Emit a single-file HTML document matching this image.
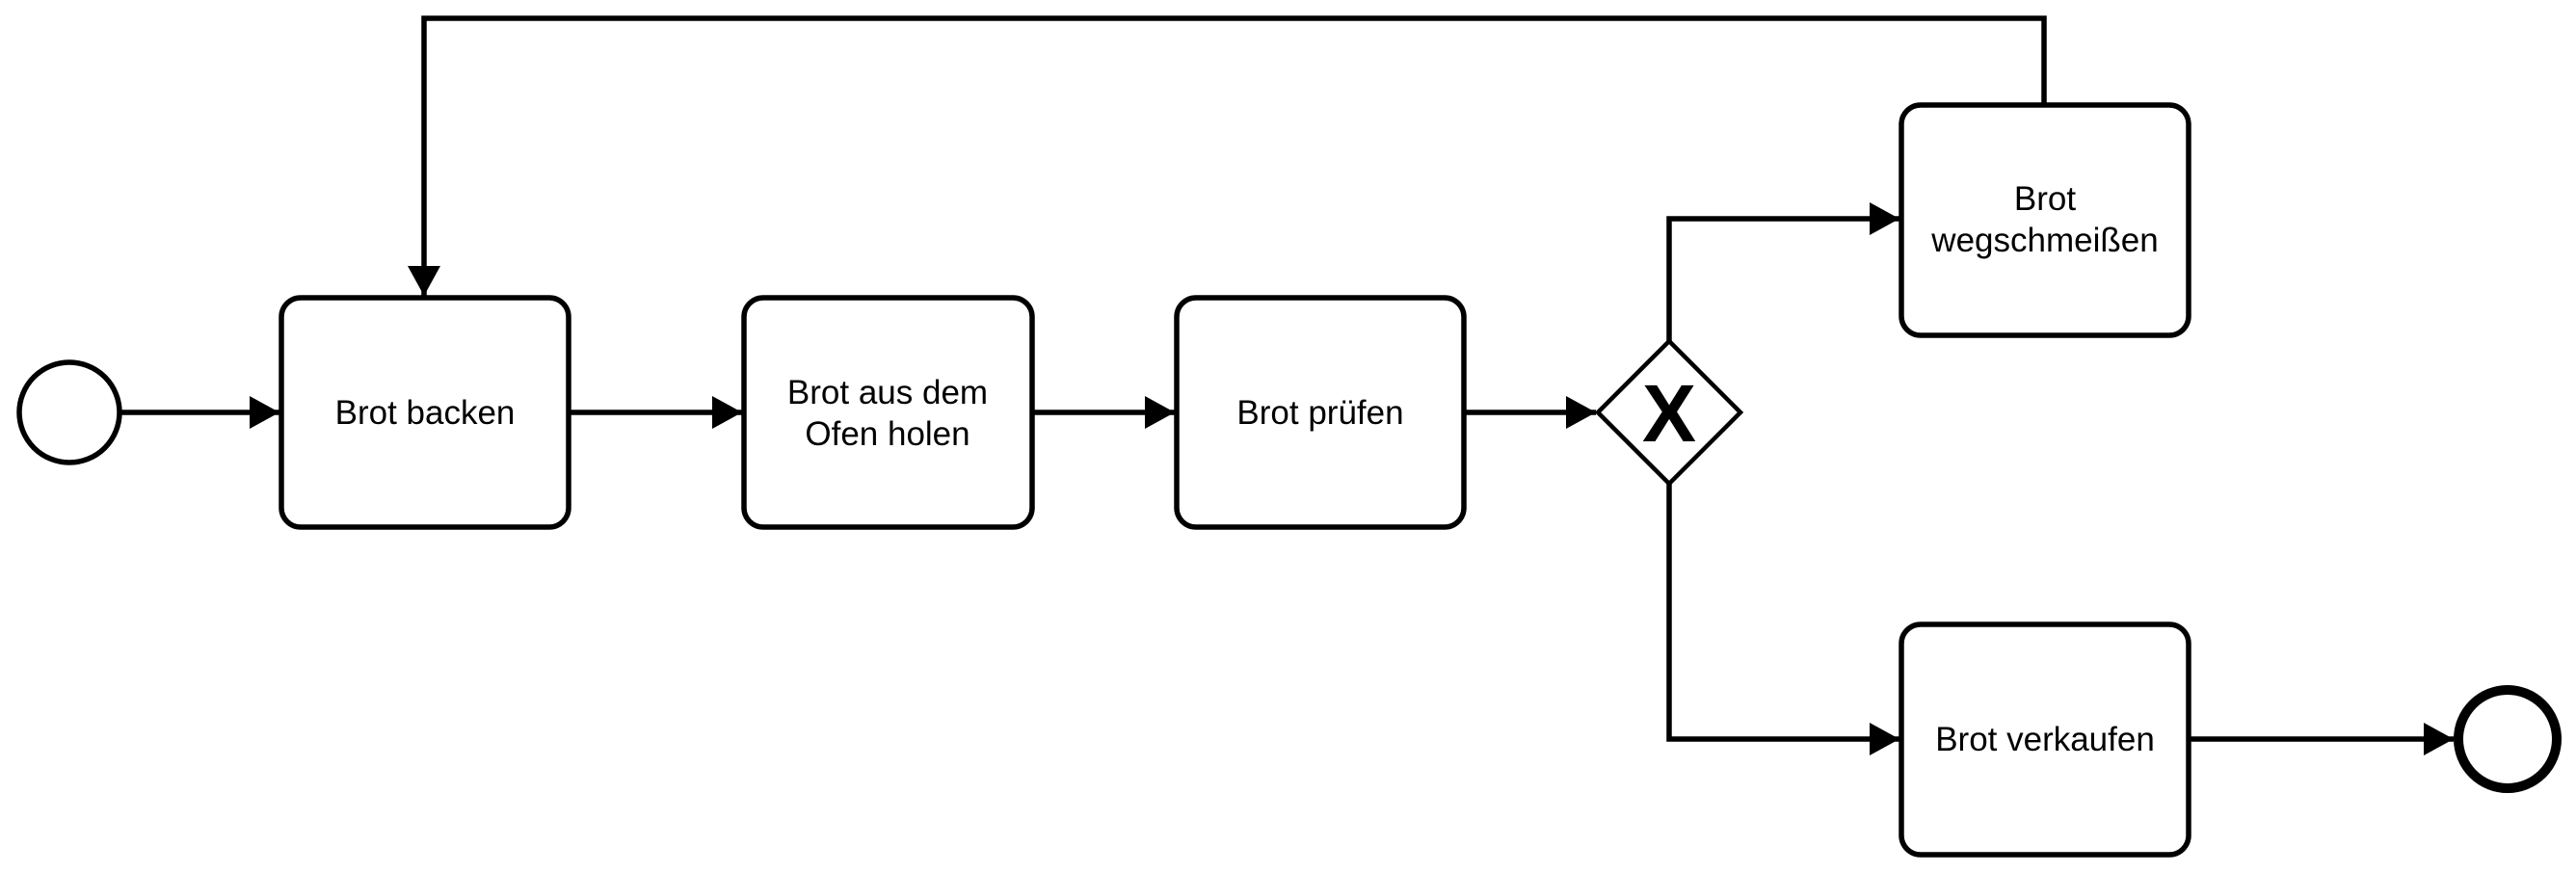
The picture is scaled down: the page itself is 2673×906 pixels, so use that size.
<!DOCTYPE html>
<html><head><meta charset="utf-8"><style>
html,body{margin:0;padding:0;background:#fff;}
svg{display:block;}
text{font-family:"Liberation Sans",Arial,sans-serif;fill:#000;}
</style></head><body>
<svg width="2673" height="906" viewBox="0 0 2673 906" xmlns="http://www.w3.org/2000/svg">
<defs>
<marker id="a" markerWidth="32" markerHeight="34" refX="31" refY="17" orient="auto" markerUnits="userSpaceOnUse">
<path d="M0,0 L31,17 L0,34 Z" fill="#000"/>
</marker>
</defs>
<g fill="none" stroke="#000" stroke-width="5.5">
<circle cx="72" cy="428" r="52"/>
<rect x="292" y="309" width="298" height="238" rx="20"/>
<rect x="772" y="309" width="299" height="238" rx="20"/>
<rect x="1221" y="309" width="298" height="238" rx="20"/>
<rect x="1973" y="109" width="298" height="239" rx="20"/>
<rect x="1973" y="648" width="298" height="239" rx="20"/>
<path d="M1732,354 L1806,428 L1732,502 L1658,428 Z" stroke-width="4.5"/>
<circle cx="2602" cy="767" r="51" stroke-width="10"/>
<path d="M124,428 H290" marker-end="url(#a)"/>
<path d="M590,428 H770" marker-end="url(#a)"/>
<path d="M1071,428 H1219" marker-end="url(#a)"/>
<path d="M1519,428 H1656" marker-end="url(#a)"/>
<path d="M1732,354 V227 H1971" marker-end="url(#a)"/>
<path d="M1732,502 V767 H1971" marker-end="url(#a)"/>
<path d="M2271,767 H2546" marker-end="url(#a)"/>
<path d="M2121,109 V19 H440 V307" marker-end="url(#a)"/>
</g>
<g font-size="35" text-anchor="middle">
<text x="441" y="440">Brot backen</text>
<text x="921" y="419">Brot aus dem</text>
<text x="921" y="462">Ofen holen</text>
<text x="1370" y="440">Brot prüfen</text>
<text x="2122" y="218">Brot</text>
<text x="2122" y="261">wegschmeißen</text>
<text x="2122" y="779">Brot verkaufen</text>
</g>
<text x="1732" y="458" font-size="84" font-weight="bold" text-anchor="middle">X</text>
</svg>
</body></html>
